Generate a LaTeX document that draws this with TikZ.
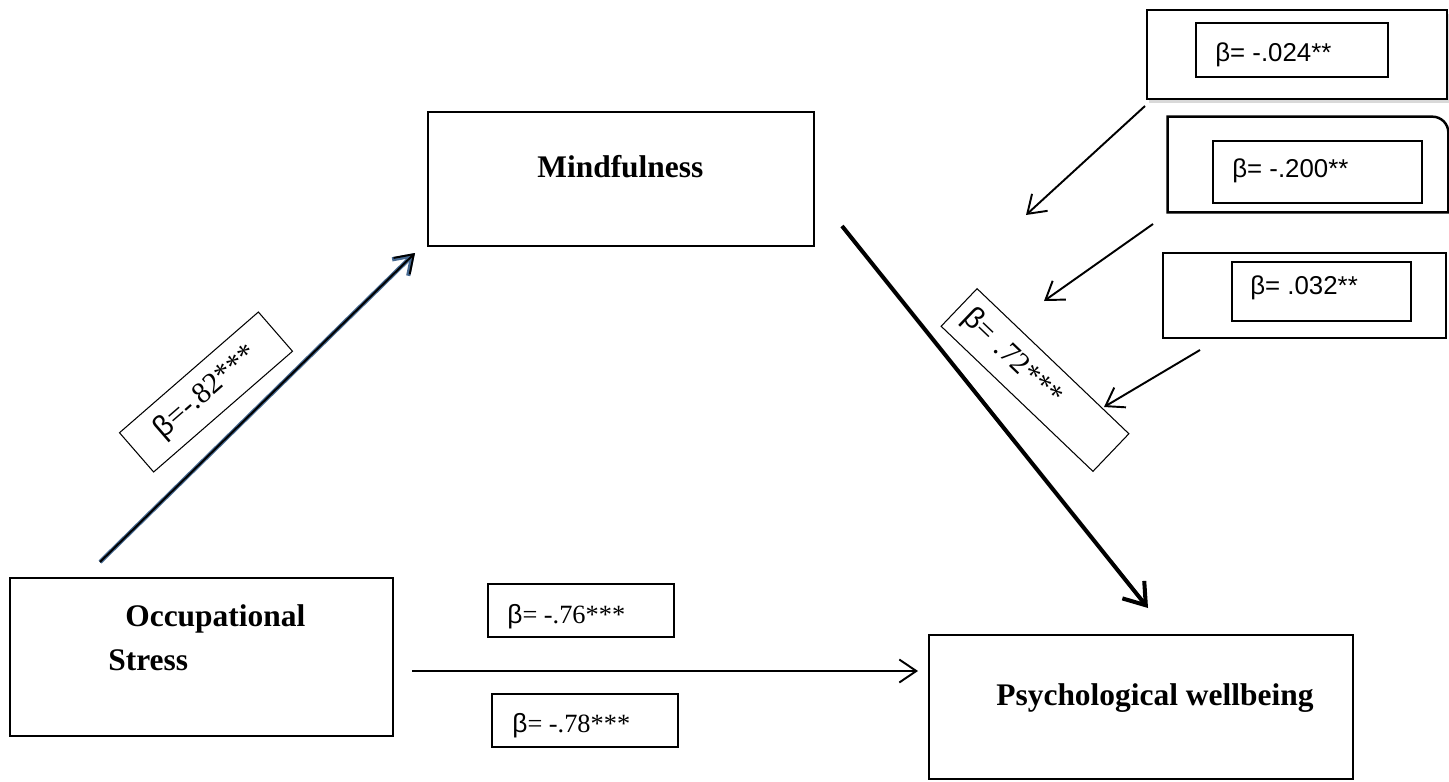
\documentclass[tikz,border=0pt]{standalone}
\usepackage{fontspec}
\setmainfont{Liberation Serif}
\newfontfamily\arialfont{Liberation Sans}
\usetikzlibrary{arrows.meta,shadows}
\definecolor{edgeblue}{RGB}{70,105,145}
\def\px{0.02cm}
\newcommand{\bet}{{\arialfont β}}

\begin{document}
\begin{tikzpicture}[
	x=0.02cm, y=-0.02cm,
	varbox/.style={ draw, line width=1.4pt, inner sep=0pt },
	coefbox/.style={ draw, line width=0.8pt, inner sep=0pt },
	slantbox/.style={ draw, line width=0.6pt, inner sep=0pt, font=\fontsize{17}{20}\selectfont },
	varname/.style={ anchor=base west, inner sep=0pt, font=\fontsize{17.9}{20}\selectfont\bfseries },
	coef/.style={ anchor=base west, inner sep=0pt, font=\fontsize{15}{18}\selectfont },
	coefsans/.style={ anchor=base west, inner sep=0pt, font=\fontsize{14.7}{18}\selectfont\arialfont },
	link/.style={ line width=1.1pt, -{Straight Barb[length=3.4mm,width=4.6mm]} },
	biglink/.style={ line width=2.3pt, -{Straight Barb[length=4mm,width=5.6mm]} }
]
\useasboundingbox (0,0) rectangle (1449,781);

\node at (621,179) (mind) [varbox, minimum width=386*\px, minimum height=134*\px] {};
\node at (537,177) (mindtxt) [varname] {Mindfulness};
\node at (201.5,657) (occ) [varbox, minimum width=383*\px, minimum height=158*\px] {};
\node at (125,626) (occtxt) [varname] {Occupational};
\node at (108,670) (stresstxt) [varname] {Stress};
\node at (1141,707) (pw) [varbox, minimum width=424*\px, minimum height=144*\px] {};
\node at (996,705) (pwtxt) [varname] {Psychological wellbeing};

\node at (581,610.5) (b76) [coefbox, minimum width=186*\px, minimum height=53*\px] {};
\node at (507,623) (b76txt) [coef] {\bet= -.76***};
\node at (585,720.5) (b78) [coefbox, minimum width=186*\px, minimum height=53*\px] {};
\node at (512,732) (b78txt) [coef] {\bet= -.78***};

\node at (206,392) (b82) [slantbox, rotate=41, minimum width=184*\px, minimum height=52*\px] {\bet=-.82***};
\node at (1035,380) (b72) [slantbox, rotate=-43.7, text width=190*\px, minimum height=52*\px, inner xsep=10*\px, align=left] {\bet= .72***};

\node at (1297,54.5) (m1) [varbox, minimum width=300*\px, minimum height=89*\px, fill=white,
	drop shadow={opacity=0.3, shadow xshift=1pt, shadow yshift=-2pt}] {};
\node at (1292,50) (m1in) [coefbox, minimum width=192*\px, minimum height=54*\px] {};
\node at (1215,61) (m1txt) [coefsans] {β= -.024**};

\node at (1308,164.5) (m2) [minimum width=280*\px, minimum height=95*\px, inner sep=0pt] {};
\draw [line width=1.4pt] (m2.south east) -- (m2.south west) -- (m2.north west)
	-- ([xshift=-16*\px]m2.north east) arc[start angle=90, end angle=0, radius=16*\px] -- cycle;
\node at (1317.5,172) (m2in) [coefbox, minimum width=209*\px, minimum height=62*\px] {};
\node at (1232,177) (m2txt) [coefsans] {β= -.200**};

\node at (1304.5,295.5) (m3) [varbox, minimum width=283*\px, minimum height=85*\px] {};
\node at (1321.5,291.5) (m3in) [coefbox, minimum width=179*\px, minimum height=59*\px] {};
\node at (1250,294) (m3txt) [coefsans] {β= .032**};

\coordinate (occ-out) at (100,562);
\coordinate (mind-in) at (415,253);
\coordinate (mind-out) at (842,226);
\coordinate (pw-top) at (1148,608);
\coordinate (occ-right) at (412,671);
\coordinate (pw-left) at (918,671);
\coordinate (m1-out) at (1145,106);
\coordinate (m1-end) at (1026,215);
\coordinate (m2-out) at (1153,224);
\coordinate (m2-end) at (1044,301);
\coordinate (m3-out) at (1200,350);
\coordinate (m3-end) at (1104,407);

\draw [link, preaction={draw=edgeblue, line width=2.4pt}] (occ-out) -- (mind-in);
\draw [biglink] (mind-out) -- (pw-top);
\draw [link] (occ-right) -- (pw-left);
\draw [link] (m1-out) -- (m1-end);
\draw [link] (m2-out) -- (m2-end);
\draw [link] (m3-out) -- (m3-end);

\end{tikzpicture}
\end{document}
